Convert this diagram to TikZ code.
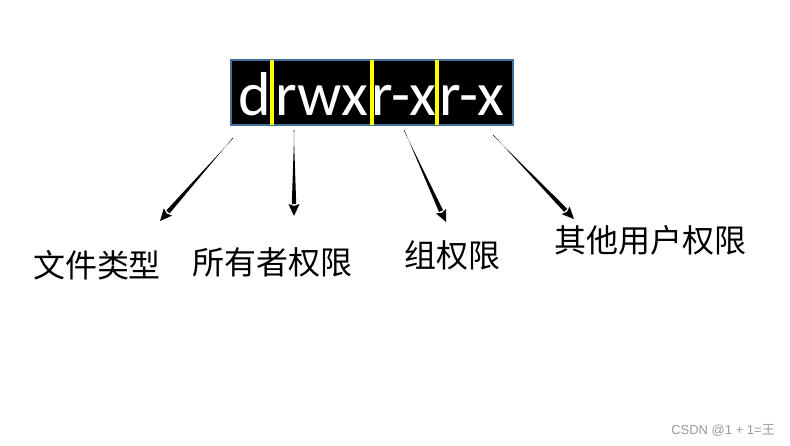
\documentclass[tikz,border=0pt]{standalone}
\usepackage{fontspec}
\setmainfont{Carlito}
\newfontfamily\cjk{Noto Sans CJK SC}
\newfontfamily\wm{Liberation Sans}
\usetikzlibrary{calc}
\definecolor{boxedge}{RGB}{65,113,156}
\definecolor{hl}{RGB}{255,255,0}
\tikzset{
  perm/.style={text=white, font=\fontsize{62}{62}\selectfont, inner sep=0pt, anchor=base},
  lbl/.style={font=\cjk\fontsize{32}{32}\selectfont, inner sep=0pt},
  sep/.style={hl, line width=3.5pt}
}
% tapered arrow from #1 to #2
\newcommand\taperarrow[2]{%
  \coordinate (tmpm) at ($(#2)!12pt!(#1)$);
  \fill ($(#1)!0.3pt!90:(#2)$) -- ($(tmpm)!2.2pt!90:(#1)$) -- ($(tmpm)!2.2pt!-90:(#1)$) -- ($(#1)!0.3pt!-90:(#2)$) -- cycle;
  \fill (#2) -- ($(tmpm)!5.5pt!90:(#1)$) -- ($(#2)!10pt!(#1)$) -- ($(tmpm)!5.5pt!-90:(#1)$) -- cycle;
}
\begin{document}
\begin{tikzpicture}[x=1pt,y=-1pt]
\useasboundingbox (0,0) rectangle (790,445);
% box
\node[draw=boxedge, fill=black, line width=2pt, minimum width=282pt, minimum height=65pt, inner sep=0pt] (box) at (372,92.5) {};
\draw[sep] (272,60) -- (272,125);
\draw[sep] (372,60) -- (372,125);
\draw[sep] (437,60) -- (437,125);
\node[perm] (t0) at (255,115) {d};
\node[perm] (t1) at (322,115) {rwx};
\node[perm] (t2) at (404,115) {r-x};
\node[perm] (t3) at (472,115) {r-x};
% labels
\node[lbl] (l0) at (97,265) {文件类型};
\node[lbl] (l1) at (272,262) {所有者权限};
\node[lbl] (l2) at (452,255) {组权限};
\node[lbl] (l3) at (650,240) {其他用户权限};
% arrow ends
\coordinate (s0) at (233,138); \coordinate (e0) at (160,221);
\coordinate (s1) at (294,130); \coordinate (e1) at (294,216);
\coordinate (s2) at (404,130); \coordinate (e2) at (446,222);
\coordinate (s3) at (493,135); \coordinate (e3) at (574,219);
\taperarrow{s0}{e0}
\taperarrow{s1}{e1}
\taperarrow{s2}{e2}
\taperarrow{s3}{e3}
% watermark
\node[text=black!40, font=\wm\fontsize{13}{13}\selectfont, anchor=east, inner sep=0pt] (wm) at (775,430) {CSDN @1 + 1=\cjk 王};
\end{tikzpicture}
\end{document}
